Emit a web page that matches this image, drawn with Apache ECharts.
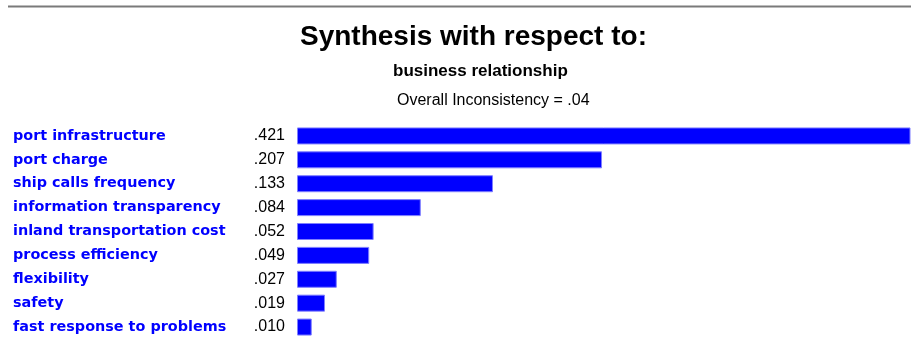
<!DOCTYPE html>
<html>
<head>
<meta charset="utf-8">
<title>Synthesis with respect to: business relationship</title>
<script src="https://cdn.jsdelivr.net/npm/echarts@6/dist/echarts.min.js"></script>
<style>
  html, body { margin: 0; padding: 0; background: #ffffff; }
  #chart { width: 911px; height: 339px; }
</style>
</head>
<body>
<div id="chart"></div>
<script>
// Criteria and their synthesized priorities
const criteria = [
  'port infrastructure',
  'port charge',
  'ship calls frequency',
  'information transparency',
  'inland transportation cost',
  'process efficiency',
  'flexibility',
  'safety',
  'fast response to problems'
];
const priorities = [0.421, 0.207, 0.133, 0.084, 0.052, 0.049, 0.027, 0.019, 0.010];

const titleText = 'Synthesis with respect to:';
const goalText = 'business relationship';
const inconsistencyText = 'Overall Inconsistency = .04';

// priorities printed without the leading zero, e.g. ".421"
const fmt = v => v.toFixed(3).replace(/^0/, '');

const chart = echarts.init(document.getElementById('chart'), null, { renderer: 'canvas' });

chart.setOption({
  animation: false,
  backgroundColor: '#ffffff',
  graphic: [
    {
      type: 'line',
      shape: { x1: 8, y1: 6.5, x2: 911, y2: 6.5 },
      style: { stroke: '#7a7a7a', lineWidth: 2 }
    },
    {
      type: 'text',
      left: 300, top: 23,
      style: {
        text: titleText,
        font: 'bold 28px "Liberation Sans", Arial, sans-serif',
        fill: '#000000'
      }
    },
    {
      type: 'text',
      left: 393, top: 63,
      style: {
        text: goalText,
        font: 'bold 17px "Liberation Sans", Arial, sans-serif',
        fill: '#000000'
      }
    },
    {
      type: 'text',
      left: 397, top: 93,
      style: {
        text: inconsistencyText,
        font: '16px "Liberation Sans", Arial, sans-serif',
        fill: '#000000'
      }
    }
  ],
  grid: { left: 297, right: 1, top: 124, height: 215, containLabel: false },
  xAxis: {
    type: 'value',
    min: 0,
    max: 0.416,
    show: false
  },
  yAxis: {
    type: 'category',
    data: criteria,
    inverse: true,
    axisLine: { show: false },
    axisTick: { show: false },
    splitLine: { show: false },
    axisLabel: {
      align: 'left',
      margin: 284,
      padding: [3, 0, 0, 0],
      color: '#0000ff',
      fontFamily: '"DejaVu Sans", Verdana, sans-serif',
      fontWeight: 'bold',
      fontSize: 14.4
    }
  },
  series: [{
    type: 'bar',
    data: priorities,
    barWidth: 17,
    clip: true,
    itemStyle: { color: '#0000ff', borderColor: '#7f7fff', borderWidth: 1 },
    label: {
      show: true,
      position: 'left',
      distance: 12,
      padding: [2, 0, 0, 0],
      formatter: p => fmt(p.value),
      color: '#000000',
      fontFamily: '"Liberation Sans", Arial, sans-serif',
      fontSize: 16
    }
  }]
});
</script>
</body>
</html>
